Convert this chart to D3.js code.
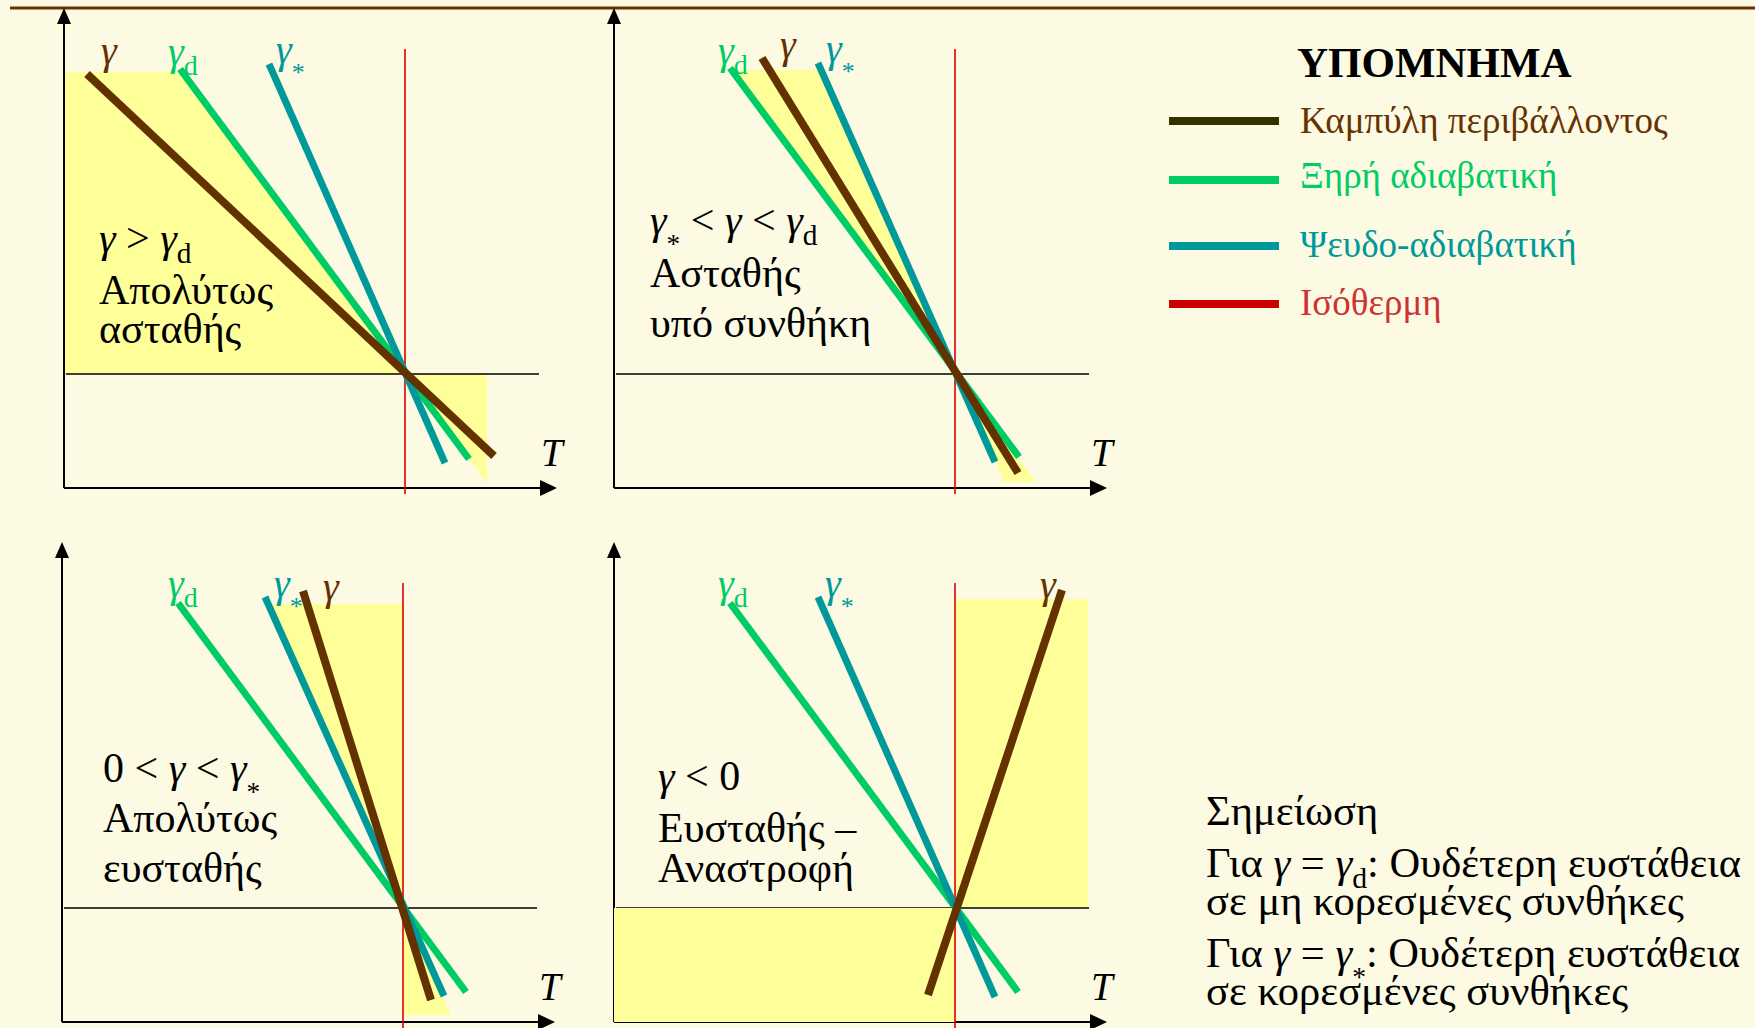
<!DOCTYPE html>
<html>
<head>
<meta charset="utf-8">
<script src="https://cdn.jsdelivr.net/npm/d3@7"></script>
<style>
  body { margin: 0; background: #fcfae3; }
  svg { display: block; }
  text { font-family: "Liberation Serif", "Times New Roman", serif; white-space: pre; }
</style>
</head>
<body>
<div id="chart"></div>
<script>
// ---- data: T (isotherm = 0) and z (reference level = 0) for each of the 4 panels ----
// each line is [top point, bottom point] as [T, z]
const envCurve = [
  [[-31.8, 30.0], [8.9, -8.2]],
  [[-19.3, 31.6], [6.3, -9.9]],
  [[-10.0, 31.7], [2.8, -9.2]],
  [[10.7, 31.8], [-2.7, -8.7]],
];
const dryAdiabat = [
  [[-22.5, 30.5], [6.4, -8.5]],
  [[-22.5, 30.6], [6.4, -8.3]],
  [[-22.5, 30.5], [6.3, -8.4]],
  [[-22.5, 30.5], [6.3, -8.4]],
];
const moistAdiabat = [
  [[-13.6, 31.0], [4.0, -8.9]],
  [[-13.7, 31.1], [4.0, -8.8]],
  [[-13.8, 31.1], [4.1, -8.8]],
  [[-13.7, 31.1], [4.0, -8.9]],
];
// shaded (yellow) areas per panel
const shadedAreas = [
  [[[-34.0, 30.2], [-22.3, 30.2], [0, 0], [-34.0, 0]], [[0, 0], [8.2, 0], [8.2, -10.9]]],
  [[[-22.4, 30.4], [-13.4, 30.4], [0, 0], [4.9, -10.8], [8.1, -10.8], [0, 0]]],
  [[[-13.5, 30.4], [0, 30.4], [0, 0]], [[0, 0], [0, -10.7], [4.8, -10.7]]],
  [[[0, 0], [13.3, 0], [13.3, 30.9], [0, 30.9]], [[-34.1, 0], [0, 0], [0, -11.4], [-34.1, -11.4]]],
];
const isotherm = [32.5, -12.0];
const refLevel = [-33.9, 13.4];

const panelText = [
  [[["γ", "i"], [" > "], ["γ", "i"], ["d", "d"]], [["Απολύτως"]], [["ασταθής"]]],
  [[["γ", "i"], ["*", "*"], [" < "], ["γ", "i"], [" < "], ["γ", "i"], ["d", "d"]], [["Ασταθής"]], [["υπό συνθήκη"]]],
  [[["0 < "], ["γ", "i"], [" < "], ["γ", "i"], ["*", "*"]], [["Απολύτως"]], [["ευσταθής"]]],
  [[["γ", "i"], [" < 0"]], [["Ευσταθής –"]], [["Αναστροφή"]]],
];
const legendTitle = "ΥΠΟΜΝΗΜΑ";
const legendLabels = ["Καμπύλη περιβάλλοντος", "Ξηρή αδιαβατική", "Ψευδο-αδιαβατική", "Ισόθερμη"];
const noteLines = [
  [["Σημείωση"]],
  [["Για "], ["γ", "i"], [" = "], ["γ", "i"], ["d", "d"], [": Ουδέτερη ευστάθεια"]],
  [["σε μη κορεσμένες συνθήκες"]],
  [["Για "], ["γ", "i"], [" = "], ["γ", "i"], ["*", "*"], [": Ουδέτερη ευστάθεια"]],
  [["σε κορεσμένες συνθήκες"]],
];

// ---- layout ----
const W = 1755, H = 1028;
const bg = "#fcfae3", yellow = "#ffff99";
const colors = { env: "#633200", dry: "#00cc66", moist: "#009999", iso: "#dd0000" };
const panelOrigins = [[64, 488], [614, 488], [62, 1022], [614, 1022]];
const textX = [35, 36, 41, 44];
const textY = [[-236, -184, -145], [-254, -201, -151], [-240, -190, -140], [-232, -180, -140]];
// label offsets (px) from the top end of each line: env, dry, moist
const labelOffsets = [
  [[14, -10], [-12, -4], [7, -1]],
  [[18, 0], [-12, -4], [8, -1]],
  [[20, 9], [-10, -6], [9, 0]],
  [[-22, 8], [-12, -6], [7, 0]],
];
const fs = 42, labelFs = 40;

const svg = d3.select("#chart").append("svg").attr("width", W).attr("height", H);
svg.append("rect").attr("width", W).attr("height", H).attr("fill", bg);
svg.append("line").attr("x1", 10).attr("x2", W).attr("y1", 8).attr("y2", 8)
  .attr("stroke", "#663300").attr("stroke-width", 3);

function rich(sel, parts, size) {
  let shift = 0;
  parts.forEach(([txt, kind]) => {
    const t = sel.append("tspan").text(txt);
    let target = 0, s = size;
    if (kind === "i") t.attr("font-style", "italic");
    if (kind === "d") { s = size * 0.7; target = size * 0.25; }
    if (kind === "*") { s = size * 0.65; target = size * 0.45; }
    t.attr("font-size", s).attr("dy", target - shift);
    shift = target;
  });
}

panelOrigins.forEach((o, i) => {
  const g = svg.append("g");
  const x = d3.scaleLinear().domain([-34.1, 15.2]).range([o[0], o[0] + 493]);
  const y = d3.scaleLinear().domain([-11.4, 36.6]).range([o[1], o[1] - 480]);
  const line = d3.line().x(d => x(d[0])).y(d => y(d[1]));

  // shading (inversion panel: lower box drawn over the reference line)
  const areas = shadedAreas[i];
  const under = i === 3 ? areas.slice(0, 1) : areas;
  g.selectAll("path.shade").data(under).join("path").attr("class", "shade")
    .attr("d", d => line(d) + "Z").attr("fill", yellow);

  // axes
  const [x0, x1] = x.range(), [y0, y1] = y.range();
  g.append("line").attr("x1", x0).attr("x2", x0).attr("y1", y0).attr("y2", y1 + 10)
    .attr("stroke", "#000").attr("stroke-width", 2);
  g.append("path").attr("d", `M${x0 - 7},${y1 + 16}L${x0},${y1}L${x0 + 7},${y1 + 16}Z`).attr("fill", "#000");
  g.append("line").attr("x1", x0).attr("x2", x1 - 10).attr("y1", y0).attr("y2", y0)
    .attr("stroke", "#000").attr("stroke-width", 2);
  g.append("path").attr("d", `M${x1 - 17},${y0 - 8}L${x1},${y0}L${x1 - 17},${y0 + 8}Z`).attr("fill", "#000");

  // reference level
  g.append("line").attr("x1", x(refLevel[0])).attr("x2", x(refLevel[1]))
    .attr("y1", y(0)).attr("y2", y(0)).attr("stroke", "#000").attr("stroke-width", 1.6);

  if (i === 3) {
    g.selectAll("path.shade2").data(areas.slice(1)).join("path").attr("class", "shade2")
      .attr("d", d => line(d) + "Z").attr("fill", yellow);
  }

  // isotherm
  g.append("line").attr("x1", x(0)).attr("x2", x(0))
    .attr("y1", y(isotherm[0])).attr("y2", y(isotherm[1]))
    .attr("stroke", colors.iso).attr("stroke-width", 1.6);

  // curves
  const curves = [
    { pts: dryAdiabat[i], c: colors.dry, w: 7, lab: [["γ", "i"], ["d", "d"]], off: labelOffsets[i][1] },
    { pts: moistAdiabat[i], c: colors.moist, w: 7, lab: [["γ", "i"], ["*", "*"]], off: labelOffsets[i][2] },
    { pts: envCurve[i], c: colors.env, w: 8, lab: [["γ", "i"]], off: labelOffsets[i][0] },
  ];
  curves.forEach(cv => {
    g.append("path").attr("d", line(cv.pts)).attr("stroke", cv.c)
      .attr("stroke-width", cv.w).attr("fill", "none");
    const top = cv.pts[0];
    const t = g.append("text").attr("x", x(top[0]) + cv.off[0]).attr("y", y(top[1]) + cv.off[1])
      .attr("fill", cv.c).attr("font-size", labelFs);
    rich(t, cv.lab, labelFs);
  });

  // axis label
  g.append("text").attr("x", x(13.6)).attr("y", y(-9.2)).attr("font-size", 39)
    .attr("font-style", "italic").text("T");

  // description
  panelText[i].forEach((ln, k) => {
    const t = g.append("text").attr("x", o[0] + textX[i]).attr("y", o[1] + textY[i][k])
      .attr("font-size", fs).attr("fill", "#000");
    rich(t, ln, fs);
  });
});

// ---- legend ----
const legendColors = ["#333300", "#00cc66", "#009999", "#cc0000"];
const legendTextColors = ["#663300", "#00cc66", "#009999", "#cc3333"];
const legendLineY = [121, 180, 246, 304];
const legendTextY = [133, 188, 257, 315];
svg.append("text").attr("x", 1297).attr("y", 77).attr("font-size", 43)
  .attr("font-weight", "bold").text(legendTitle);
const lg = svg.append("g");
lg.selectAll("line").data(legendLabels).join("line")
  .attr("x1", 1169).attr("x2", 1279)
  .attr("y1", (d, k) => legendLineY[k]).attr("y2", (d, k) => legendLineY[k])
  .attr("stroke", (d, k) => legendColors[k]).attr("stroke-width", 8);
lg.selectAll("text").data(legendLabels).join("text")
  .attr("x", 1300).attr("y", (d, k) => legendTextY[k]).attr("font-size", 37)
  .attr("fill", (d, k) => legendTextColors[k]).text(d => d);

// ---- note ----
const noteY = [825, 877, 915, 967, 1005];
noteLines.forEach((ln, k) => {
  const t = svg.append("text").attr("x", 1206).attr("y", noteY[k]).attr("font-size", 42.5);
  rich(t, ln, 42.5);
});
</script>
</body>
</html>
